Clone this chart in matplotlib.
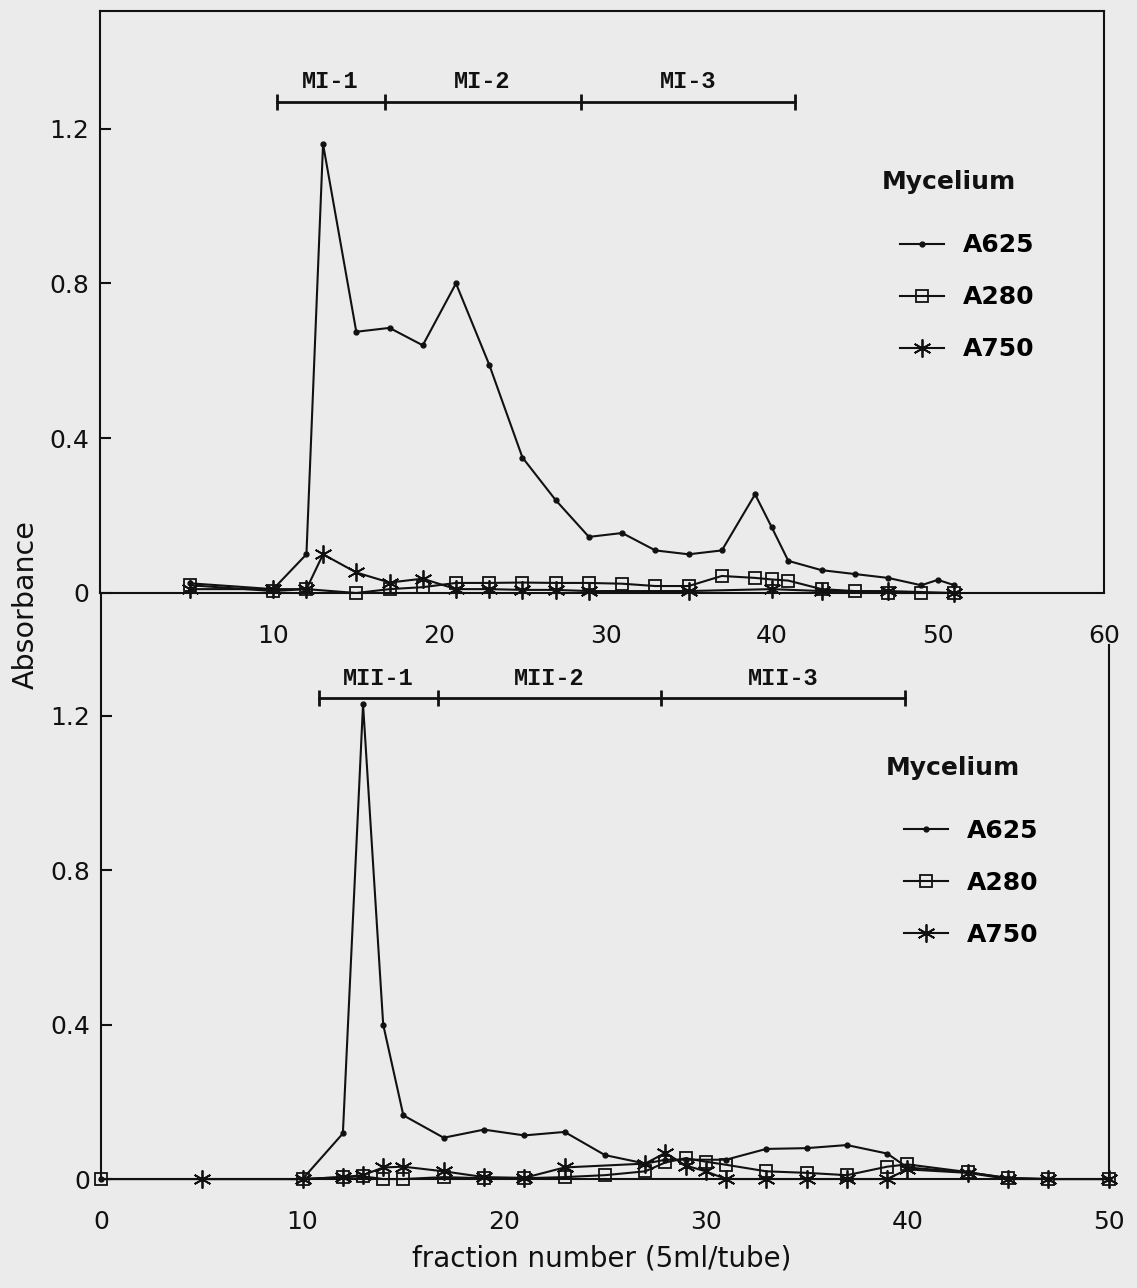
import matplotlib
matplotlib.use("Agg")
import matplotlib.pyplot as plt
from matplotlib.lines import Line2D

# ---------- data ----------
# upper panel (fraction number 0-60)
top_x_a625 = [5, 10, 12, 13, 15, 17, 19, 21, 23, 25, 27, 29, 31, 33, 35, 37, 39, 40, 41, 43, 45, 47, 49, 50, 51]
top_a625 = [0.025, 0.01, 0.10, 1.16, 0.675, 0.685, 0.64, 0.80, 0.59, 0.35, 0.24, 0.145, 0.155, 0.11,
            0.10, 0.11, 0.255, 0.17, 0.083, 0.059, 0.049, 0.039, 0.02, 0.034, 0.02]
top_x_a280 = [5, 10, 12, 15, 17, 19, 21, 23, 25, 27, 29, 31, 33, 35, 37, 39, 40, 41, 43, 45, 47, 49, 51]
top_a280 = [0.02, 0.005, 0.01, 0.0, 0.01, 0.015, 0.026, 0.026, 0.027, 0.026, 0.026, 0.024, 0.018, 0.018,
            0.044, 0.039, 0.035, 0.032, 0.01, 0.005, 0.0, 0.0, 0.0]
top_x_a750 = [5, 10, 12, 13, 15, 17, 19, 21, 23, 25, 27, 29, 35, 40, 43, 47, 51]
top_a750 = [0.01, 0.01, 0.01, 0.10, 0.053, 0.027, 0.037, 0.01, 0.01, 0.008, 0.008, 0.005,
            0.005, 0.01, 0.005, 0.005, 0.0]

# lower panel (fraction number 0-50)
bot_x_a625 = [0, 10, 12, 13, 14, 15, 17, 19, 21, 23, 25, 27, 28, 29, 31, 33, 35, 37, 39, 40, 43, 45, 47, 50]
bot_a625 = [0.0, 0.0, 0.118, 1.23, 0.40, 0.165, 0.107, 0.128, 0.113, 0.122, 0.062, 0.04, 0.05, 0.05,
            0.05, 0.078, 0.08, 0.088, 0.066, 0.03, 0.017, 0.003, 0.0, 0.0]
bot_x_a280 = [0, 10, 12, 13, 14, 15, 17, 19, 21, 23, 25, 27, 28, 29, 30, 31, 33, 35, 37, 39, 40, 43, 45, 47, 50]
bot_a280 = [0.0, 0.0, 0.005, 0.007, 0.0, 0.0, 0.005, 0.002, 0.002, 0.005, 0.01, 0.02, 0.043, 0.054,
            0.045, 0.037, 0.02, 0.016, 0.01, 0.032, 0.038, 0.018, 0.002, 0.0, 0.0]
bot_x_a750 = [5, 10, 12, 13, 14, 15, 17, 19, 21, 23, 27, 28, 29, 30, 31, 33, 35, 37, 39, 40, 43, 45, 47, 50]
bot_a750 = [0.0, 0.0, 0.005, 0.01, 0.03, 0.032, 0.02, 0.005, 0.003, 0.03, 0.04, 0.068, 0.035, 0.02,
            0.0, 0.0, 0.0, 0.0, 0.0, 0.025, 0.016, 0.0, 0.0, 0.0]

# pooled fraction ranges
top_pool_bounds = [10.2, 16.7, 28.5, 41.4]
top_pool_names = ["MI-1", "MI-2", "MI-3"]
bot_pool_bounds = [10.8, 16.7, 27.8, 39.9]
bot_pool_names = ["MII-1", "MII-2", "MII-3"]

series_names = ["A625", "A280", "A750"]

# ---------- styling ----------
plt.rcParams['font.family'] = ['DejaVu Sans']
BG = '#ebebeb'
INK = '#111111'
LW = 1.5
MONO = ['Liberation Mono', 'DejaVu Sans Mono']
styles = [
    dict(marker='o', ms=3.5, mfc=INK, mec=INK),
    dict(marker='s', ms=9, mfc='none', mec=INK, mew=1.3),
    dict(marker=(6, 2, 0), ms=13, mec=INK, mew=1.3),
]

fig = plt.figure(figsize=(11.37, 12.88), dpi=100, facecolor=BG)

ax_top = fig.add_axes([0.0880, 0.5396, 0.8830, 0.4519])
ax_bot = fig.add_axes([0.0888, 0.0846, 0.8865, 0.4550])

for ax in (ax_top, ax_bot):
    ax.set_facecolor('none')
    for s in ax.spines.values():
        s.set_linewidth(1.5)
        s.set_color(INK)
    ax.tick_params(axis='y', direction='in', length=8, width=1.5, pad=8,
                   labelsize=18, colors=INK)
    ax.tick_params(axis='x', length=0, pad=22, labelsize=18, colors=INK)
    ax.set_yticks([0, 0.4, 0.8, 1.2])
    ax.set_yticklabels(["0", "0.4", "0.8", "1.2"])


def draw_panel(ax, xs, ys, bounds, names, bar_y, legend_xy, title_xy):
    handles = []
    for x, y, st, nm in zip(xs, ys, styles, series_names):
        ax.plot(x, y, color=INK, lw=LW, clip_on=False, label=nm, **st)
        handles.append(Line2D([], [], color=INK, lw=LW, **st))
    # pooled fraction bars
    ax.plot(bounds, [bar_y] * len(bounds), color=INK, lw=2, marker='|', ms=12, mew=2)
    for i, nm in enumerate(names):
        ax.text((bounds[i] + bounds[i + 1]) / 2, bar_y + 0.022, nm, ha='center', va='bottom',
                fontsize=17, family=MONO, fontweight='bold', color=INK)
    ax.text(title_xy[0], title_xy[1], "Mycelium", transform=ax.transAxes, fontsize=18,
            fontweight='bold', ha='left', va='center', color=INK)
    ax.legend(handles, series_names, loc='upper left', bbox_to_anchor=legend_xy, frameon=False,
              prop=dict(size=18, weight='bold'), handlelength=1.75, handletextpad=0.75,
              labelspacing=1.12, borderpad=0, borderaxespad=0)


draw_panel(ax_top, [top_x_a625, top_x_a280, top_x_a750], [top_a625, top_a280, top_a750],
           top_pool_bounds, top_pool_names, 1.27, (0.797, 0.618), (0.779, 0.706))
draw_panel(ax_bot, [bot_x_a625, bot_x_a280, bot_x_a750], [bot_a625, bot_a280, bot_a750],
           bot_pool_bounds, bot_pool_names, 1.246, (0.797, 0.615), (0.779, 0.701))

# upper panel: full box
ax_top.set_xlim(-0.42, 60)
ax_top.set_ylim(0, 1.504)
ax_top.set_xticks([10, 20, 30, 40, 50, 60])

# lower panel: open top, short right spine
ax_bot.set_xlim(0, 50)
ax_bot.set_ylim(0, 1.518)
ax_bot.set_xticks([0, 10, 20, 30, 40, 50])
ax_bot.spines['top'].set_visible(False)
ax_bot.spines['right'].set_bounds(0, 1.383)

fig.text(26 / 1137, 1 - 605 / 1288, "Absorbance", rotation=90, ha='center', va='center',
         fontsize=20.5, color=INK)
fig.text(602 / 1137, 1 - 1258 / 1288, "fraction number (5ml/tube)", ha='center', va='center',
         fontsize=20, color=INK)

fig.savefig("out.png", dpi=100, facecolor=BG)
